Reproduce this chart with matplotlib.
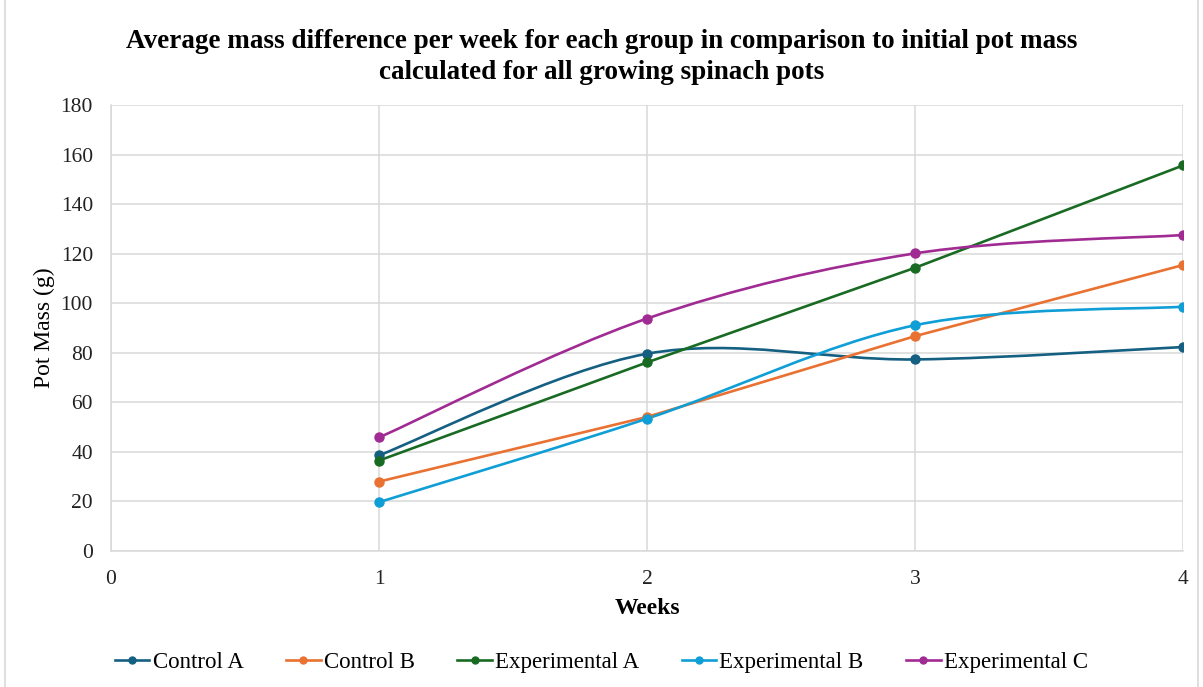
import numpy as np
import matplotlib.pyplot as plt
from matplotlib.path import Path
from matplotlib.patches import PathPatch, Rectangle
from matplotlib.lines import Line2D

# data
weeks = [1, 2, 3, 4]
control_a = [38.6, 79.6, 77.3, 82.3]
control_b = [28.0, 54.1, 86.7, 115.4]
experimental_a = [36.5, 76.1, 114.3, 155.6]
experimental_b = [19.7, 53.4, 91.1, 98.6]
experimental_c = [45.8, 93.8, 120.1, 127.5]

series_names = ['Control A', 'Control B', 'Experimental A', 'Experimental B', 'Experimental C']
series_values = [control_a, control_b, experimental_a, experimental_b, experimental_c]
colors = ['#156082', '#E97132', '#196B24', '#0F9ED5', '#A02B93']
smooth = [True, False, False, True, True]

plt.rcParams['font.family'] = ['Liberation Serif', 'DejaVu Serif']


def smooth_path(x, y):
    # Excel-like smoothed line: cubic bezier segments through the points
    pts = np.column_stack([x, y]).astype(float)
    n = len(pts)
    verts = [pts[0]]
    codes = [Path.MOVETO]
    for i in range(n - 1):
        p0 = pts[i - 1] if i > 0 else pts[i]
        p1 = pts[i]
        p2 = pts[i + 1]
        p3 = pts[i + 2] if i + 2 < n else pts[i + 1]
        c1 = p1 + (p2 - p0) / 6.0
        c2 = p2 - (p3 - p1) / 6.0
        verts += [c1, c2, p2]
        codes += [Path.CURVE4] * 3
    return Path(verts, codes)


fig = plt.figure(figsize=(12.03, 6.87), dpi=100)
ax = fig.add_axes([0.0923, 0.198, 0.8911, 0.6492])

# light border round the chart area
fig.patches.append(Rectangle((0.004, -0.01), 0.992, 1.02, transform=fig.transFigure,
                             fill=False, edgecolor='#D9D9D9', linewidth=1.2))

for name, vals, c, sm in zip(series_names, series_values, colors, smooth):
    if sm:
        ax.add_patch(PathPatch(smooth_path(weeks, vals), facecolor='none',
                               edgecolor=c, linewidth=1.9, zorder=3))
    else:
        ax.plot(weeks, vals, color=c, linewidth=1.9, zorder=3)
    ax.plot(weeks, vals, linestyle='none', marker='o', markersize=6.5, color=c, zorder=4)

ax.set_xlim(0, 4)
ax.set_ylim(0, 180)
ax.set_xticks(range(0, 5))
ax.set_yticks(range(0, 181, 20))
ax.grid(True, color='#D9D9D9', linewidth=1.1)
ax.set_axisbelow(True)
ax.tick_params(length=0, labelsize=15.5, labelcolor='#222222')
ax.tick_params(axis='y', pad=13)
ax.tick_params(axis='x', pad=14)
for s in ['top', 'right']:
    ax.spines[s].set_visible(False)
for s in ['left', 'bottom']:
    ax.spines[s].set_color('#D9D9D9')
    ax.spines[s].set_linewidth(1.1)

ax.set_xlabel('Weeks', fontsize=17, fontweight='bold', labelpad=6)
ax.set_ylabel('Pot Mass (g)', fontsize=17, labelpad=4)

fig.text(0.5, 0.917, 'Average mass difference per week for each group in comparison to initial pot mass\n'
         'calculated for all growing spinach pots', ha='center', va='center',
         fontsize=19.5, fontweight='bold', linespacing=1.35)

handles = [Line2D([], [], color=c, linewidth=1.9, marker='o', markersize=5) for c in colors]
fig.legend(handles, series_names, loc='center', bbox_to_anchor=(0.5, 0.036), ncol=5,
           frameon=False, handlelength=1.5, handletextpad=0.15, columnspacing=1.85,
           prop={'size': 16.5})

fig.savefig('out.png', dpi=100)
